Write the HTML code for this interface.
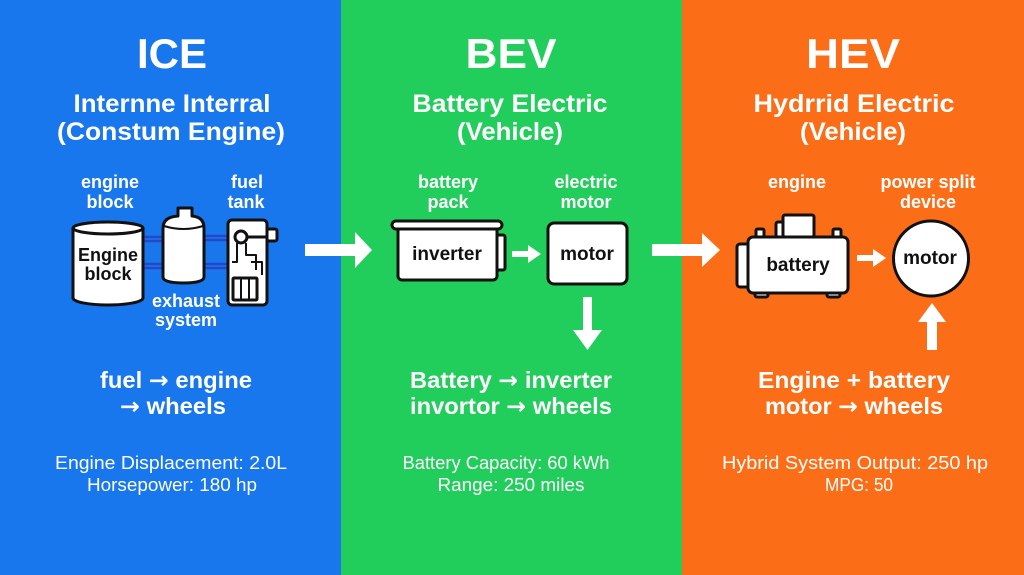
<!DOCTYPE html>
<html><head><meta charset="utf-8"><style>
html,body{margin:0;padding:0;width:1024px;height:575px;overflow:hidden;background:#1977ee}
svg{display:block}
text{font-family:"Liberation Sans",sans-serif;fill:#fff;text-anchor:middle;font-weight:bold}
.k{fill:#111}
.n{font-weight:normal}
.a{font-family:"DejaVu Sans",sans-serif;font-weight:bold}
</style></head><body>
<svg width="1024" height="575" viewBox="0 0 1024 575" xmlns="http://www.w3.org/2000/svg">
<rect x="0" y="0" width="342" height="575" fill="#1977ee"/>
<rect x="341" y="0" width="342" height="575" fill="#21cd5b"/>
<rect x="682" y="0" width="342" height="575" fill="#fb6e17"/>

<!-- ICE -->
<text x="172" y="68" font-size="42" textLength="70" lengthAdjust="spacingAndGlyphs">ICE</text>
<text x="172" y="112" font-size="25" textLength="197" lengthAdjust="spacingAndGlyphs">Internne Interral</text>
<text x="171" y="140" font-size="25" textLength="228" lengthAdjust="spacingAndGlyphs">(Constum Engine)</text>
<text x="110" y="188" font-size="18">engine</text>
<text x="110" y="208" font-size="18">block</text>
<text x="247" y="188" font-size="18">fuel</text>
<text x="246" y="208" font-size="18">tank</text>
<text x="186" y="307" font-size="18">exhaust</text>
<text x="186" y="326" font-size="18">system</text>

<g stroke="#2448c8" stroke-width="2.5">
<line x1="143" y1="237" x2="163" y2="237"/><line x1="143" y1="241" x2="163" y2="241"/>
<line x1="143" y1="264" x2="163" y2="264"/><line x1="143" y1="268" x2="163" y2="268"/>
<line x1="204" y1="236" x2="228" y2="236"/><line x1="204" y1="240" x2="228" y2="240"/>
<line x1="204" y1="264" x2="228" y2="264"/><line x1="204" y1="268" x2="228" y2="268"/>
</g>
<g stroke="#111" stroke-width="3" fill="#fff" stroke-linejoin="round">
<path d="M73,228 L73,298 A35,7 0 0 0 143,298 L143,228 Z"/>
<ellipse cx="108" cy="228" rx="35" ry="6"/>
<path d="M163,228 Q163,217 178,216 L178,208 L192,208 L192,216 Q204,217 204,228 L204,277 Q204,283 183.5,283 Q163,283 163,277 Z"/>
<path d="M164,226 Q183.5,232 203,226" fill="none" stroke-width="2"/>
<rect x="228" y="220" width="39" height="85" rx="4"/>
<circle cx="241" cy="237" r="6"/>
<line x1="247" y1="237" x2="267" y2="237"/>
<rect x="267" y="229" width="10" height="12" rx="2"/>
<path d="M237,243 L237,262 L232,262 M246,243 L246,255 L256,255 L256,270 M251,262 L262,262 L262,275" fill="none" stroke-width="2"/>
<rect x="233" y="278" width="24" height="22" rx="1"/>
<line x1="241" y1="279" x2="241" y2="299" stroke-width="2"/>
<line x1="249" y1="279" x2="249" y2="299" stroke-width="2"/>
</g>
<text class="k" x="108" y="261" font-size="18">Engine</text>
<text class="k" x="108" y="280" font-size="18">block</text>

<text x="176" y="388" font-size="23" textLength="152" lengthAdjust="spacingAndGlyphs">fuel <tspan class="a">→</tspan> engine</text>
<text x="173" y="414" font-size="23" textLength="106" lengthAdjust="spacingAndGlyphs"><tspan class="a">→</tspan> wheels</text>
<text class="n" x="171" y="469" font-size="18" textLength="232" lengthAdjust="spacingAndGlyphs">Engine Displacement: 2.0L</text>
<text class="n" x="172" y="491" font-size="18" textLength="170" lengthAdjust="spacingAndGlyphs">Horsepower: 180 hp</text>

<!-- big arrows -->
<path d="M305,244 L355,244 L355,232 L372,250 L355,268 L355,256 L305,256 Z" fill="#fff"/>
<path d="M652,244 L702,244 L702,233 L720,250 L702,267 L702,256 L652,256 Z" fill="#fff"/>

<!-- BEV -->
<text x="511" y="68" font-size="42" textLength="91" lengthAdjust="spacingAndGlyphs">BEV</text>
<text x="510" y="112" font-size="25" textLength="195" lengthAdjust="spacingAndGlyphs">Battery Electric</text>
<text x="510" y="140" font-size="25" textLength="106" lengthAdjust="spacingAndGlyphs">(Vehicle)</text>
<text x="448" y="188" font-size="18">battery</text>
<text x="448" y="208" font-size="18">pack</text>
<text x="586" y="188" font-size="18">electric</text>
<text x="586" y="208" font-size="18">motor</text>
<g stroke="#111" stroke-width="3" fill="#fff" stroke-linejoin="round">
<rect x="495" y="235" width="10" height="35" rx="2"/>
<rect x="398" y="227" width="99" height="53" rx="4"/>
<rect x="392" y="221" width="110" height="8" rx="4"/>
<rect x="548" y="223" width="79" height="61" rx="6"/>
</g>
<text class="k" x="447" y="260" font-size="19">inverter</text>
<text class="k" x="587" y="260" font-size="19">motor</text>
<path d="M512,251 L528,251 L528,245 L541,254 L528,263 L528,257 L512,257 Z" fill="#fff"/>
<path d="M583,297 L592,297 L592,330 L602,330 L587.5,350 L573,330 L583,330 Z" fill="#fff"/>
<text x="511" y="388" font-size="23" textLength="202" lengthAdjust="spacingAndGlyphs">Battery <tspan class="a">→</tspan> inverter</text>
<text x="511" y="414" font-size="23" textLength="202" lengthAdjust="spacingAndGlyphs">invortor <tspan class="a">→</tspan>  wheels</text>
<text class="n" x="506" y="469" font-size="18" textLength="207" lengthAdjust="spacingAndGlyphs">Battery Capacity: 60 kWh</text>
<text class="n" x="511" y="491" font-size="18" textLength="147" lengthAdjust="spacingAndGlyphs">Range: 250 miles</text>

<!-- HEV -->
<text x="853" y="68" font-size="42" textLength="94" lengthAdjust="spacingAndGlyphs">HEV</text>
<text x="854" y="112" font-size="25" textLength="201" lengthAdjust="spacingAndGlyphs">Hydrrid Electric</text>
<text x="853" y="140" font-size="25" textLength="106" lengthAdjust="spacingAndGlyphs">(Vehicle)</text>
<text x="797" y="188" font-size="18">engine</text>
<text x="928" y="188" font-size="18">power split</text>
<text x="928" y="208" font-size="18">device</text>
<g stroke="#111" stroke-width="3" fill="#fff" stroke-linejoin="round">
<rect x="755" y="289" width="13" height="8" rx="2"/>
<rect x="827" y="289" width="13" height="8" rx="2"/>
<rect x="756" y="229" width="8" height="10" rx="1.5"/>
<rect x="833" y="229" width="8" height="10" rx="1.5"/>
<rect x="776" y="222" width="10" height="16" rx="2"/>
<rect x="783" y="215" width="31" height="22" rx="2"/>
<rect x="737" y="244" width="14" height="43" rx="3"/>
<rect x="748" y="237" width="100" height="56" rx="5"/>
<circle cx="931" cy="258.5" r="37.5"/>
</g>
<text class="k" x="798" y="271" font-size="19">battery</text>
<text class="k" x="930" y="264" font-size="19">motor</text>
<path d="M857,255 L873,255 L873,249 L886,258 L873,267 L873,261 L857,261 Z" fill="#fff"/>
<path d="M927,350 L937,350 L937,322 L946,322 L932,303 L918,322 L927,322 Z" fill="#fff"/>
<text x="854" y="388" font-size="23" textLength="192" lengthAdjust="spacingAndGlyphs">Engine +  battery</text>
<text x="854" y="414" font-size="23" textLength="178" lengthAdjust="spacingAndGlyphs">motor <tspan class="a">→</tspan> wheels</text>
<text class="n" x="855" y="469" font-size="18" textLength="266" lengthAdjust="spacingAndGlyphs">Hybrid System Output: 250 hp</text>
<text class="n" x="859" y="491" font-size="18" textLength="68" lengthAdjust="spacingAndGlyphs">MPG: 50</text>
</svg>
</body></html>
